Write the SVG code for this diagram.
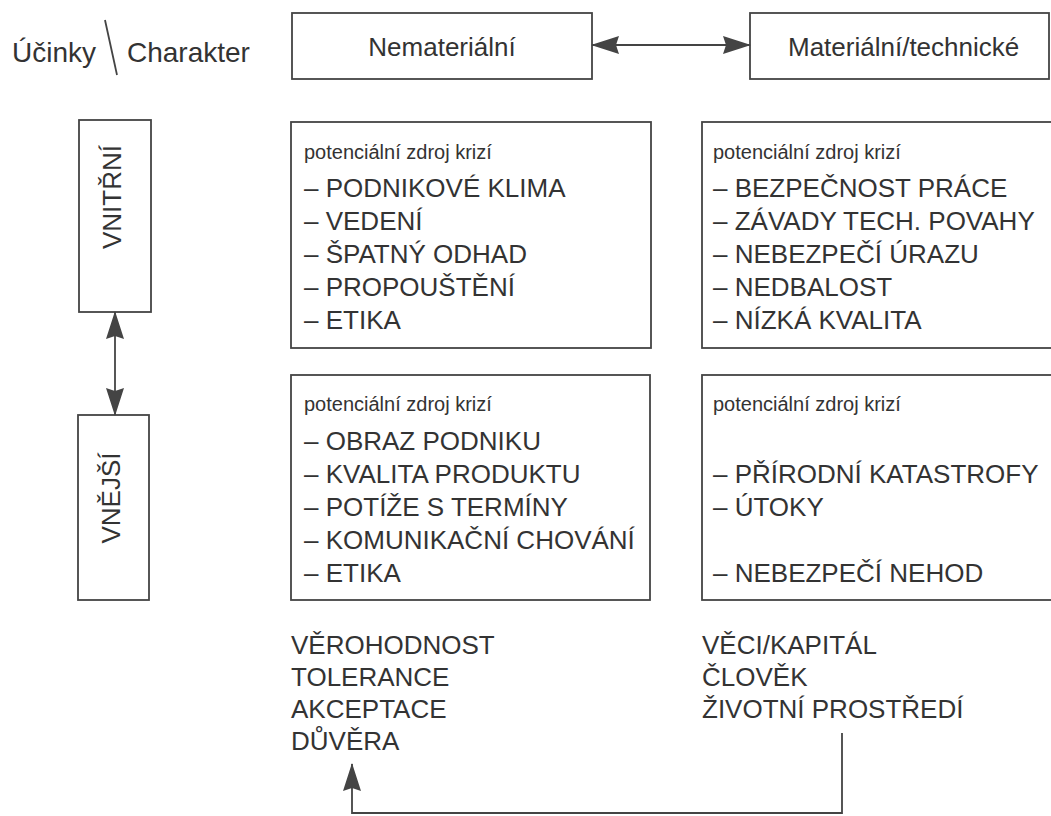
<svg xmlns="http://www.w3.org/2000/svg" width="1051" height="816" viewBox="0 0 1051 816">
<style>
text{font-family:"Liberation Sans",Arial,sans-serif;fill:#333}
.hd{font-size:28px}
.bx{font-size:26px}
.it{font-size:26px}
.pz{font-size:20px}
.box{fill:none;stroke:#444;stroke-width:1.8}
.ln{fill:none;stroke:#444;stroke-width:1.8}
</style>
<defs>
<marker id="ah" viewBox="0 0 28 18" refX="27" refY="9" markerWidth="28" markerHeight="18" markerUnits="userSpaceOnUse" orient="auto-start-reverse">
<path d="M0,0 L28,9 L0,18 L3,9 Z" fill="#444"/>
</marker>
</defs>
<rect width="1051" height="816" fill="#fff"/>
<g id="header">
<text class="hd" x="12" y="62">Účinky</text>
<line class="ln" x1="105" y1="20" x2="117" y2="75"/>
<text class="hd" x="127" y="62">Charakter</text>
</g>
<g id="nematerialni">
<rect class="box" x="292" y="13" width="300" height="66"/>
<text class="bx" x="442" y="56" text-anchor="middle">Nemateriální</text>
</g>
<g id="materialni">
<rect class="box" x="750" y="13" width="299" height="66"/>
<text class="bx" x="788" y="56">Materiální/technické</text>
</g>
<g id="vnitrni">
<rect class="box" x="79" y="120" width="72" height="192"/>
<text class="it" transform="translate(121,197) rotate(-90)" text-anchor="middle">VNITŘNÍ</text>
</g>
<g id="vnejsi">
<rect class="box" x="78" y="415" width="71" height="185"/>
<text class="it" transform="translate(120,498) rotate(-90)" text-anchor="middle">VNĚJŠÍ</text>
</g>
<g id="box-vnitrni-nemat">
<rect class="box" x="291" y="122" width="360" height="226"/>
<text class="pz" x="304" y="159">potenciální zdroj krizí</text>
<text class="it" x="304" y="197">– PODNIKOVÉ KLIMA</text>
<text class="it" x="304" y="230">– VEDENÍ</text>
<text class="it" x="304" y="263">– ŠPATNÝ ODHAD</text>
<text class="it" x="304" y="296">– PROPOUŠTĚNÍ</text>
<text class="it" x="304" y="329">– ETIKA</text>
</g>
<g id="box-vnitrni-mat">
<rect class="box" x="702" y="122" width="370" height="226"/>
<text class="pz" x="713" y="159">potenciální zdroj krizí</text>
<text class="it" x="713" y="197">– BEZPEČNOST PRÁCE</text>
<text class="it" x="713" y="230">– ZÁVADY TECH. POVAHY</text>
<text class="it" x="713" y="263">– NEBEZPEČÍ ÚRAZU</text>
<text class="it" x="713" y="296">– NEDBALOST</text>
<text class="it" x="713" y="329">– NÍZKÁ KVALITA</text>
</g>
<g id="box-vnejsi-nemat">
<rect class="box" x="291" y="375" width="359" height="225"/>
<text class="pz" x="304" y="411">potenciální zdroj krizí</text>
<text class="it" x="304" y="450">– OBRAZ PODNIKU</text>
<text class="it" x="304" y="483">– KVALITA PRODUKTU</text>
<text class="it" x="304" y="516">– POTÍŽE S TERMÍNY</text>
<text class="it" x="304" y="549">– KOMUNIKAČNÍ CHOVÁNÍ</text>
<text class="it" x="304" y="582">– ETIKA</text>
</g>
<g id="box-vnejsi-mat">
<rect class="box" x="702" y="375" width="370" height="225"/>
<text class="pz" x="713" y="411">potenciální zdroj krizí</text>
<text class="it" x="713" y="483">– PŘÍRODNÍ KATASTROFY</text>
<text class="it" x="713" y="516">– ÚTOKY</text>
<text class="it" x="713" y="582">– NEBEZPEČÍ NEHOD</text>
</g>
<g id="dopady-nemat">
<text class="it" x="291" y="654">VĚROHODNOST</text>
<text class="it" x="291" y="686">TOLERANCE</text>
<text class="it" x="291" y="718">AKCEPTACE</text>
<text class="it" x="291" y="750">DŮVĚRA</text>
</g>
<g id="dopady-mat">
<text class="it" x="702" y="654">VĚCI/KAPITÁL</text>
<text class="it" x="702" y="686">ČLOVĚK</text>
<text class="it" x="702" y="718">ŽIVOTNÍ PROSTŘEDÍ</text>
</g>
<g id="connectors">
<line class="ln" x1="592" y1="45" x2="750" y2="45" marker-start="url(#ah)" marker-end="url(#ah)"/>
<line class="ln" x1="115" y1="312" x2="115" y2="415" marker-start="url(#ah)" marker-end="url(#ah)"/>
<polyline class="ln" points="842,733 842,813 352,813 352,764" marker-end="url(#ah)"/>
</g>
</svg>
